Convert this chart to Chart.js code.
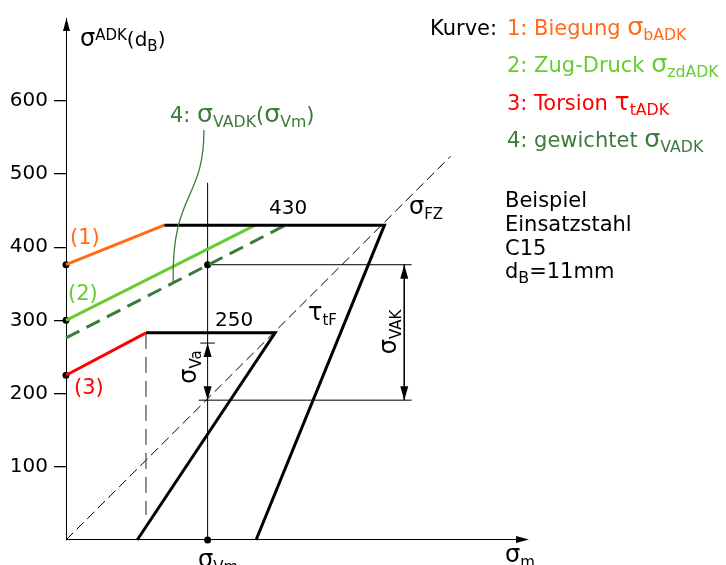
<!DOCTYPE html>
<html>
<head>
<meta charset="utf-8">
<script src="https://cdn.jsdelivr.net/npm/chart.js@4.4.1/dist/chart.umd.min.js"></script>
<style>
  html, body { margin: 0; padding: 0; background: #fff; }
  #wrap { width: 726px; height: 565px; }
</style>
</head>
<body>
<div id="wrap"><canvas id="c" width="726" height="565"></canvas></div>
<script>
// Stress axis ticks
const yTicks = [100, 200, 300, 400, 500, 600];

// Fatigue strength lines (σ_m, σ_ADK) for d_B = 11 mm
const biegung   = [{x: 0, y: 376}, {x: 134, y: 430}];   // 1: bending
const zugDruck  = [{x: 0, y: 300}, {x: 258, y: 430}];   // 2: tension-compression
const gewichtet = [{x: 0, y: 276}, {x: 299, y: 430}];   // 4: weighted
const torsion   = [{x: 0, y: 225}, {x: 109, y: 283}];   // 3: torsion

// Yield limits
const fliessZug     = [{x: 134, y: 430}, {x: 434, y: 430}, {x: 259, y: 0}];
const fliessTorsion = [{x: 109, y: 283}, {x: 285, y: 283}, {x: 97, y: 0}];
const torsionLot    = [{x: 109, y: 283}, {x: 109, y: 34}];
const diagonale     = [{x: 0, y: 0}, {x: 524, y: 524}];

// Working point construction
const sigmaVm    = 193;
const oberLinie  = 376;
const unterLinie = 191;
const vaOben     = 269;
const vmLot      = [{x: sigmaVm, y: 0}, {x: sigmaVm, y: 488}];
const oben       = [{x: sigmaVm, y: oberLinie}, {x: 471, y: oberLinie}];
const unten      = [{x: 181, y: unterLinie}, {x: 471, y: unterLinie}];
const vaStrich   = [{x: 183, y: vaOben}, {x: 203, y: vaOben}];
const vakPfeil   = [{x: 461, y: oberLinie}, {x: 461, y: unterLinie}];
const punkte     = [{x: 0, y: 376}, {x: 0, y: 300}, {x: 0, y: 225}, {x: sigmaVm, y: oberLinie}, {x: sigmaVm, y: 0}];

// Leader from label 4 to its curve (cubic Bézier in data units)
const leader = [{x: 188, y: 560}, {x: 188, y: 463}, {x: 144, y: 477}, {x: 146, y: 352}];

const ORANGE = '#ff6b17';
const HELLGRUEN = '#66cc33';
const ROT = '#ff0000';
const DUNKELGRUEN = '#3d7a3d';
const FONT = '"DejaVu Sans", Verdana, sans-serif';
const GREEK = /[\u0370-\u03ff]/;

function line(data, color, width, dash) {
  return {
    data, showLine: true, borderColor: color, borderWidth: width,
    borderDash: dash || [], pointRadius: 0, pointHoverRadius: 0,
    clip: false, fill: false, tension: 0, borderCapStyle: 'butt'
  };
}

// Draws text made of normal / sub / sup pieces; Greek letters a little larger
function rich(ctx, parts, x, y, opt) {
  opt = opt || {};
  const size = opt.size || 20;
  const small = size * 0.75;
  const runs = [];
  parts.forEach(p => {
    const base = p[1] === 'n' ? size : small;
    const dy = p[1] === 'sub' ? size * 0.25 : (p[1] === 'sup' ? -size * 0.3 : 0);
    let cur = '', curG = null;
    for (const ch of p[0]) {
      const g = GREEK.test(ch);
      if (curG !== null && g !== curG) { runs.push({t: cur, s: curG ? base * 1.2 : base, dy}); cur = ''; }
      cur += ch; curG = g;
    }
    if (cur) runs.push({t: cur, s: curG ? base * 1.2 : base, dy});
  });
  ctx.save();
  ctx.fillStyle = opt.color || '#000';
  ctx.textBaseline = 'alphabetic';
  ctx.textAlign = 'left';
  let w = 0;
  runs.forEach(r => { ctx.font = r.s + 'px ' + FONT; r.w = ctx.measureText(r.t).width; w += r.w; });
  ctx.translate(x, y);
  if (opt.rot) ctx.rotate(opt.rot);
  let cx = opt.align === 'center' ? -w / 2 : 0;
  runs.forEach(r => {
    ctx.font = r.s + 'px ' + FONT;
    ctx.fillText(r.t, cx, r.dy);
    cx += r.w;
  });
  ctx.restore();
}

function arrowHead(ctx, x, y, dir, len, half) {
  ctx.beginPath();
  if (dir === 'up')    { ctx.moveTo(x, y); ctx.lineTo(x - half, y + len); ctx.lineTo(x + half, y + len); }
  if (dir === 'down')  { ctx.moveTo(x, y); ctx.lineTo(x - half, y - len); ctx.lineTo(x + half, y - len); }
  if (dir === 'right') { ctx.moveTo(x, y); ctx.lineTo(x - len, y - half); ctx.lineTo(x - len, y + half); }
  ctx.closePath();
  ctx.fill();
}

const annotations = {
  id: 'annotations',
  afterDatasetsDraw(chart) {
    const ctx = chart.ctx;
    const xs = chart.scales.x, ys = chart.scales.y;
    const px = v => xs.getPixelForValue(v);
    const py = v => ys.getPixelForValue(v);
    const area = chart.chartArea;

    ctx.save();
    ctx.fillStyle = '#000';
    ctx.strokeStyle = '#000';
    // x axis with arrow
    ctx.lineWidth = 1;
    ctx.beginPath();
    ctx.moveTo(area.left, Math.round(area.bottom) - 0.5);
    ctx.lineTo(area.right - 6, Math.round(area.bottom) - 0.5);
    ctx.stroke();
    arrowHead(ctx, area.right, Math.round(area.bottom) - 0.5, 'right', 13, 3.5);
    // y axis arrow
    arrowHead(ctx, Math.round(area.left) + 0.5, area.top, 'up', 13, 3.5);

    // dimension arrows
    arrowHead(ctx, px(sigmaVm), py(vaOben), 'up', 14, 4);
    arrowHead(ctx, px(sigmaVm), py(unterLinie), 'down', 14, 4);
    arrowHead(ctx, px(461), py(oberLinie), 'up', 14, 4);
    arrowHead(ctx, px(461), py(unterLinie), 'down', 14, 4);

    // leader curve
    ctx.strokeStyle = DUNKELGRUEN;
    ctx.lineWidth = 1.3;
    ctx.beginPath();
    ctx.moveTo(px(leader[0].x), py(leader[0].y));
    ctx.bezierCurveTo(px(leader[1].x), py(leader[1].y), px(leader[2].x), py(leader[2].y), px(leader[3].x), py(leader[3].y));
    ctx.stroke();
    ctx.restore();

    // axis titles
    rich(ctx, [['σ', 'n'], ['ADK', 'sup'], ['(d', 'n'], ['B', 'sub'], [')', 'n']], 80, 46, {size: 20});
    rich(ctx, [['σ', 'n'], ['m', 'sub']], 505, 562, {size: 20});
    rich(ctx, [['σ', 'n'], ['Vm', 'sub']], 198, 567, {size: 20});

    // value labels
    rich(ctx, [['430', 'n']], 269, 214, {size: 20});
    rich(ctx, [['250', 'n']], 215, 326, {size: 20});
    rich(ctx, [['σ', 'n'], ['FZ', 'sub']], 409, 214, {size: 20});
    rich(ctx, [['τ', 'n'], ['tF', 'sub']], 308, 320, {size: 20});
    rich(ctx, [['σ', 'n'], ['Va', 'sub']], 196, 367, {size: 20, rot: -Math.PI / 2, align: 'center'});
    rich(ctx, [['σ', 'n'], ['VAK', 'sub']], 396, 332, {size: 20, rot: -Math.PI / 2, align: 'center'});

    // curve numbers
    rich(ctx, [['(1)', 'n']], 70, 244, {size: 21, color: ORANGE});
    rich(ctx, [['(2)', 'n']], 68, 300, {size: 21, color: HELLGRUEN});
    rich(ctx, [['(3)', 'n']], 74, 394, {size: 21, color: ROT});
    rich(ctx, [['4: σ', 'n'], ['VADK', 'sub'], ['(σ', 'n'], ['Vm', 'sub'], [')', 'n']], 170, 122, {size: 21, color: DUNKELGRUEN});

    // legend
    rich(ctx, [['Kurve: ', 'n']], 430, 35, {size: 21});
    rich(ctx, [['1: Biegung σ', 'n'], ['bADK', 'sub']], 507, 35, {size: 21, color: ORANGE});
    rich(ctx, [['2: Zug-Druck σ', 'n'], ['zdADK', 'sub']], 507, 72, {size: 21, color: HELLGRUEN});
    rich(ctx, [['3: Torsion τ', 'n'], ['tADK', 'sub']], 507, 110, {size: 21, color: ROT});
    rich(ctx, [['4: gewichtet σ', 'n'], ['VADK', 'sub']], 507, 147, {size: 21, color: DUNKELGRUEN});

    // example block
    rich(ctx, [['Beispiel', 'n']], 505, 207, {size: 21});
    rich(ctx, [['Einsatzstahl', 'n']], 505, 231, {size: 21});
    rich(ctx, [['C15', 'n']], 505, 255, {size: 21});
    rich(ctx, [['d', 'n'], ['B', 'sub'], ['=11mm', 'n']], 505, 278, {size: 21});
  }
};

new Chart(document.getElementById('c'), {
  type: 'scatter',
  data: {
    datasets: [
      line(fliessZug, '#000', 3),
      line(fliessTorsion, '#000', 3),
      line(biegung, ORANGE, 3),
      line(zugDruck, HELLGRUEN, 3),
      line(gewichtet, DUNKELGRUEN, 3, [15, 8]),
      line(torsion, ROT, 3),
      line(torsionLot, '#555', 1.3, [16, 8]),
      line(diagonale, '#000', 1, [10, 5]),
      line(vmLot, '#000', 1),
      line(oben, '#000', 1),
      line(unten, '#000', 1),
      line(vaStrich, '#000', 1),
      line(vakPfeil, '#000', 1),
      {
        data: punkte, showLine: false, pointRadius: 3.5, pointHoverRadius: 3.5,
        backgroundColor: '#000', borderColor: '#000', borderWidth: 0, clip: false
      }
    ]
  },
  options: {
    responsive: false,
    animation: false,
    events: [],
    layout: { padding: { left: 0, right: 197, top: 17, bottom: 25 } },
    plugins: { legend: { display: false }, tooltip: { enabled: false } },
    scales: {
      x: { type: 'linear', min: 0, max: 631, display: false },
      y: {
        type: 'linear', min: 0, max: 713,
        afterFit: s => { s.width = 66; },
        afterBuildTicks: s => { s.ticks = yTicks.map(v => ({value: v})); },
        grid: { drawOnChartArea: false, drawTicks: true, tickLength: 12, color: '#000', lineWidth: 1.3 },
        border: { display: true, color: '#000', width: 1 },
        ticks: { padding: 6, color: '#000', font: { family: FONT, size: 20 } }
      }
    }
  },
  plugins: [annotations]
});
</script>
</body>
</html>
